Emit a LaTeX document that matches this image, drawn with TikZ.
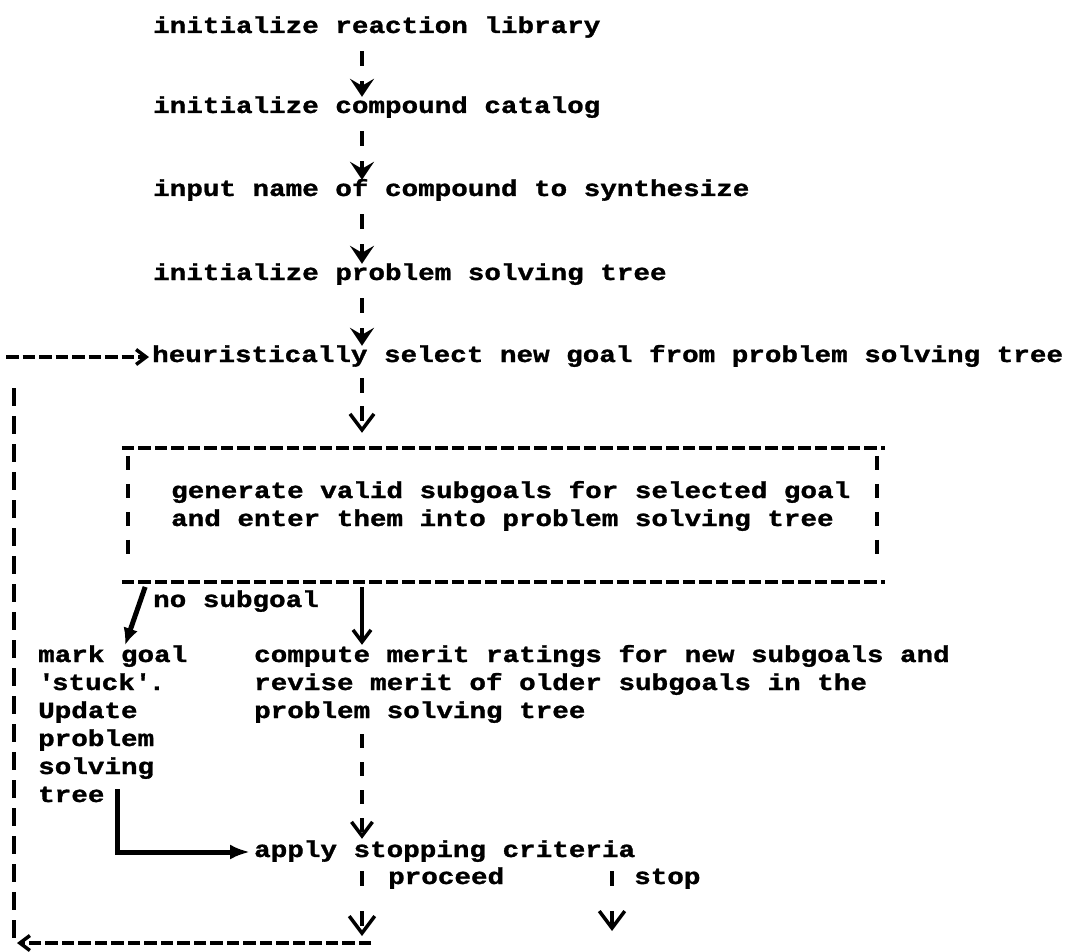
\documentclass[tikz,border=0pt]{standalone}
\usepackage{fontspec}
\newfontfamily\typefont[FakeStretch=1.2,FakeBold=1.3]{Liberation Mono}
\usetikzlibrary{arrows.meta}
\begin{document}
\begin{tikzpicture}[x=1pt,y=1pt,
  txt/.style={font=\typefont\bfseries\fontsize{23}{28}\selectfont, inner sep=0pt, anchor=base west},
  one/.style={txt, text height=16pt, text depth=6pt},
  multi/.style={txt, align=left},
  ink/.style={line width=3.5pt},
  hdash/.style={ink, dash pattern=on 12.5pt off 4pt},
  vdash/.style={ink, dash pattern=on 18pt off 10pt},
  sdash/.style={ink, dash pattern=on 14pt off 14pt},
  downarr/.style={ink, dash pattern=on 15pt off 15pt, -{Stealth[length=18pt,width=24pt,inset=7pt]}, shorten <=12pt, shorten >=0pt},
  vee/.style={-{Straight Barb[length=#1,width=1.5*#1]}},
  thickarr/.style={line width=5pt, -{Latex[length=17pt,width=15pt]}}
]
\fill[white] (0,0) rectangle (1076,-952);
\useasboundingbox (0,0) rectangle (1076,-952);
\coordinate (ax) at (362,0);
\coordinate (sx) at (612,0);
% nodes (multi-line nodes are placed by the baseline of their last line)
\node[one] (lib)  at (153,-33)  {initialize reaction library};
\node[one] (cat)  at (153,-113) {initialize compound catalog};
\node[one] (inp)  at (153,-196) {input name of compound to synthesize};
\node[one] (init) at (153,-280) {initialize problem solving tree};
\node[one] (heur) at (152,-362) {heuristically select new goal from problem solving tree};
\node[minimum width=763pt, minimum height=134pt, inner sep=0pt] (box) at (503.5,-515) {};
\node[multi] (gen) at (171,-526) {generate valid subgoals for selected goal\\and enter them into problem solving tree};
\node[one] (nosub) at (153,-607) {no subgoal};
\node[multi] (mark) at (38,-802) {mark goal\\\textquotesingle stuck\textquotesingle.\\Update\\problem\\solving\\tree};
\node[multi] (merit) at (254,-718) {compute merit ratings for new subgoals and\\revise merit of older subgoals in the\\problem solving tree};
\node[one] (apply) at (254,-857) {apply stopping criteria};
\node[one] (proc) at (388,-884) {proceed};
\node[one] (stop) at (634,-884) {stop};
\coordinate (pc) at (362,-943);
\coordinate (stopend) at (612,-931);
\coordinate (bl) at (17,-943);
\coordinate (lt) at (14,-388);
\coordinate (lb) at (14,-938);
\coordinate (tl) at (6,-357);
% top chain
\draw[downarr] (lib.south -| ax) -- (cat.north -| ax);
\draw[downarr] (cat.south -| ax) -- (inp.north -| ax);
\draw[downarr] (inp.south -| ax) -- (init.north -| ax);
\draw[downarr] (init.south -| ax) -- (heur.north -| ax);
\draw[ink, dash pattern=on 15pt off 13pt, vee=16pt, shorten <=10pt, shorten >=15pt] (heur.south -| ax) -- (box.north -| ax);
% box
\draw[hdash] (box.north west) -- (box.north east);
\draw[hdash] (box.south west) -- (box.south east);
\draw[sdash] ([xshift=6pt,yshift=-8pt]box.north west) -- ([xshift=6pt,yshift=28pt]box.south west);
\draw[sdash] ([xshift=-8pt,yshift=-8pt]box.north east) -- ([xshift=-8pt,yshift=28pt]box.south east);
% out of box
\draw[thickarr, shorten <=5pt] ([xshift=25pt]box.south west) -- ([xshift=87pt]mark.north west);
\draw[ink, vee=12pt, shorten <=5pt] (box.south -| ax) -- (merit.north -| ax);
\draw[sdash, vee=14pt, shorten <=11pt, shorten >=2pt] (merit.south -| ax) -- (apply.north -| ax);
\draw[line width=5pt, -{Latex[length=20pt,width=15pt]}, shorten >=4pt] ([xshift=79pt,yshift=13pt]mark.south west) |- (apply.west);
% after stopping criteria
\draw[ink, dash pattern=on 15pt off 25pt, vee=17pt, shorten <=8pt, shorten >=7pt] (apply.south -| ax) -- (pc);
\draw[ink, dash pattern=on 15pt off 25pt, vee=17pt, shorten <=8pt] (apply.south -| sx) -- (stopend);
% loop back
\draw[hdash, vee=10pt] ([xshift=9pt]pc) -- (bl);
\draw[vdash] (lt) -- (lb);
\draw[hdash, vee=10pt, shorten >=3pt] (tl) -- (heur.west);
\end{tikzpicture}
\end{document}
